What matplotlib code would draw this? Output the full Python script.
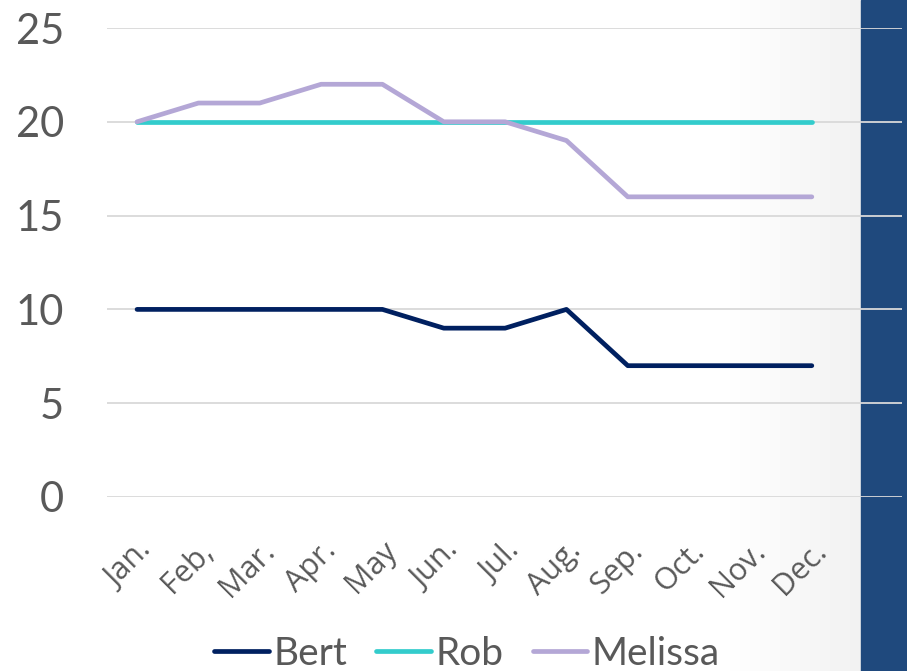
import numpy as np
import matplotlib.pyplot as plt
from matplotlib.patches import Rectangle

months = ['Jan.', 'Feb,', 'Mar.', 'Apr.', 'May', 'Jun.', 'Jul.', 'Aug.',
          'Sep.', 'Oct.', 'Nov.', 'Dec.']
bert = [10, 10, 10, 10, 10, 9, 9, 10, 7, 7, 7, 7]
rob = [20, 20, 20, 20, 20, 20, 20, 20, 20, 20, 20, 20]
melissa = [20, 21, 21, 22, 22, 20, 20, 19, 16, 16, 16, 16]
y_ticks = [0, 5, 10, 15, 20, 25]

W, H = 907, 671
fig = plt.figure(figsize=(W / 100, H / 100), dpi=100)

# background: white fading to light grey on the right, dark band at edge
bg = fig.add_axes([0, 0, 1, 1], zorder=-1)
bg.set_xlim(0, W)
bg.set_ylim(0, H)
bg.axis('off')
xs = np.arange(W)
shade = np.clip((xs - 720) / 140, 0, 1) * 0.055
grad = np.tile(1 - shade, (2, 1))
bg.imshow(grad, extent=[0, W, 0, H], cmap='gray', vmin=0, vmax=1, aspect='auto')
bg.add_patch(Rectangle((861, 0), W - 861, H, color='#1F497D'))

ax = fig.add_axes([107 / W, (H - 497) / H, (902 - 107) / W, (497 - 28) / H])
ax.set_facecolor('none')

x = np.arange(len(months))
ax.plot(x, bert, color='#002060', lw=3.4, solid_capstyle='round', label='Bert', zorder=3)
ax.plot(x, rob, color='#33CCCC', lw=3.4, solid_capstyle='round', label='Rob', zorder=3)
ax.plot(x, melissa, color='#B4A7D6', lw=3.4, solid_capstyle='round', label='Melissa', zorder=3)

ax.set_xlim(-0.49, 12.47)
ax.set_ylim(0, 25)
ax.set_yticks(y_ticks)
ax.set_xticks(x)
ax.set_xticklabels(months, rotation=45, ha='right', rotation_mode='anchor',
                   fontsize=22, family='Open Sans', color='#595959')
for lbl in ax.get_yticklabels():
    lbl.set_family('Lato')
ax.tick_params(axis='y', labelsize=30, colors='#595959', length=0, pad=31)
ax.tick_params(axis='x', length=0, pad=28)
ax.grid(axis='y', color='#d9d9d9', lw=1.3)
ax.set_axisbelow(True)
for s in ax.spines.values():
    s.set_visible(False)

fig.legend(loc='lower center', bbox_to_anchor=(467 / W, -0.03), ncol=3,
           frameon=False, borderpad=0, handlelength=1.4, handletextpad=0.12,
           columnspacing=0.75, prop={'family': 'Lato', 'size': 28},
           labelcolor='#595959')

fig.savefig('out.png', dpi=100)
